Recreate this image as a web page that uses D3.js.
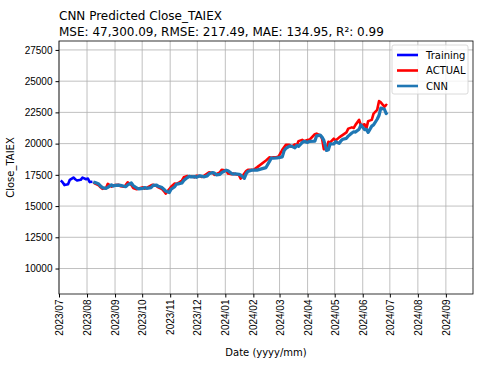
<!DOCTYPE html>
<html>
<head>
<meta charset="utf-8">
<script src="https://cdn.jsdelivr.net/npm/d3@7"></script>
<style>
    body { margin: 0; background: #fff; }
    svg { font-family: "DejaVu Sans", sans-serif; }
    .grid line { stroke: #b0b0b0; stroke-width: 0.8; }
</style>
</head>
<body>
<svg width="483" height="372"></svg>
<script>
var trainDates = ["2023-07-03", "2023-07-05", "2023-07-07", "2023-07-11", "2023-07-13", "2023-07-17",
    "2023-07-19", "2023-07-21", "2023-07-25", "2023-07-27", "2023-07-31", "2023-08-02", "2023-08-04",
    "2023-08-07"];
var trainValues = [17050, 16900, 16680, 16750, 17100, 17280, 17150, 17050, 17100, 17280, 17150, 17200,
    16920, 16950];

var testDates = ["2023-08-08", "2023-08-10", "2023-08-14", "2023-08-16", "2023-08-18", "2023-08-22", "2023-08-24", "2023-08-28",
    "2023-08-30", "2023-09-01", "2023-09-05", "2023-09-07", "2023-09-11", "2023-09-13", "2023-09-15",
    "2023-09-19", "2023-09-21", "2023-09-25", "2023-09-27", "2023-10-02", "2023-10-04", "2023-10-06",
    "2023-10-11", "2023-10-13", "2023-10-17", "2023-10-19", "2023-10-23", "2023-10-25", "2023-10-27",
    "2023-10-31", "2023-11-02", "2023-11-06", "2023-11-08", "2023-11-10", "2023-11-14", "2023-11-16",
    "2023-11-20", "2023-11-22", "2023-11-24", "2023-11-28", "2023-11-30", "2023-12-04", "2023-12-06",
    "2023-12-08", "2023-12-12", "2023-12-14", "2023-12-18", "2023-12-20", "2023-12-22", "2023-12-26",
    "2023-12-28", "2024-01-02", "2024-01-04", "2024-01-08", "2024-01-10", "2024-01-12", "2024-01-16",
    "2024-01-18", "2024-01-22", "2024-01-24", "2024-01-26", "2024-01-30", "2024-02-01", "2024-02-05",
    "2024-02-15", "2024-02-19", "2024-02-21", "2024-02-23", "2024-02-27", "2024-02-29", "2024-03-04",
    "2024-03-06", "2024-03-08", "2024-03-12", "2024-03-14", "2024-03-18", "2024-03-20", "2024-03-22",
    "2024-03-26", "2024-03-28", "2024-04-01", "2024-04-03", "2024-04-09", "2024-04-11", "2024-04-15",
    "2024-04-17", "2024-04-19", "2024-04-22", "2024-04-24", "2024-04-26", "2024-04-30", "2024-05-02",
    "2024-05-06", "2024-05-08", "2024-05-10", "2024-05-14", "2024-05-16", "2024-05-20", "2024-05-22",
    "2024-05-24", "2024-05-28", "2024-05-30", "2024-06-03", "2024-06-05", "2024-06-07", "2024-06-11",
    "2024-06-13", "2024-06-17", "2024-06-19", "2024-06-21", "2024-06-25", "2024-06-27", "2024-06-28"];
var actualValues = [16900, 16800, 16650, 16500, 16380, 16450, 16780, 16560, 16650, 16680, 16700, 16580, 16550, 16700,
    16900, 16700, 16450, 16350, 16400, 16500, 16400, 16450, 16660, 16710, 16600, 16500, 16350, 16200,
    16000, 16350, 16550, 16800, 16780, 16850, 17050, 17300, 17400, 17350, 17380, 17300, 17430, 17400,
    17330, 17400, 17600, 17700, 17650, 17500, 17550, 17700, 17900, 17850, 17600, 17550, 17600, 17550,
    17500, 17200, 17600, 17800, 17900, 17900, 17890, 18100, 18650, 18900, 18870, 18900, 18920, 18970,
    19500, 19700, 19900, 19900, 19750, 19950, 19850, 20200, 20300, 20200, 20300, 20300, 20750, 20800,
    20650, 20400, 19550, 19600, 20150, 20100, 20400, 20250, 20500, 20600, 20700, 20900, 21200, 21300,
    21250, 21500, 21900, 21450, 21550, 21200, 21800, 21900, 22400, 22700, 23400, 23300, 22950, 23100, 23050];
var cnnValues = [16920, 16880, 16760, 16600, 16480, 16420, 16500, 16700, 16600, 16650, 16680, 16660, 16580, 16560,
    16700, 16850, 16650, 16450, 16380, 16420, 16480, 16420, 16480, 16650, 16680, 16580, 16480, 16350,
    16200, 16080, 16350, 16550, 16760, 16780, 16850, 17050, 17280, 17380, 17340, 17360, 17300, 17420,
    17390, 17340, 17420, 17580, 17680, 17640, 17500, 17540, 17680, 17870, 17830, 17600, 17550, 17590,
    17540, 17480, 17220, 17580, 17770, 17870, 17880, 17880, 18080, 18600, 18850, 18830, 18860, 18880,
    18940, 19420, 19620, 19800, 19800, 19660, 19850, 19780, 20080, 20180, 20100, 20180, 20200, 20620,
    20680, 20520, 20260, 19450, 19500, 19980, 19970, 20150, 20020, 20230, 20350, 20420, 20600, 20850,
    20950, 20920, 21150, 21500, 21120, 21150, 20900, 21400, 21500, 21950, 22250, 22850, 22750, 22400, 22500];

var yTicks = [10000, 12500, 15000, 17500, 20000, 22500, 25000, 27500];

var parse = d3.timeParse("%Y-%m-%d");
var svg = d3.select("svg"),
    margin = { top: 41, right: 10, bottom: 78, left: 59 },
    width = +svg.attr("width") - margin.left - margin.right,
    height = +svg.attr("height") - margin.top - margin.bottom;

var x = d3.scaleTime()
    .domain([parse("2023-07-01"), parse("2024-10-01")])
    .range([0, width]);
var y = d3.scaleLinear().domain([7960, 28215]).range([height, 0]);

var g = svg.append("g")
    .attr("transform", "translate(" + margin.left + "," + margin.top + ")");

var monthTicks = d3.timeMonth.range(parse("2023-07-01"), parse("2024-09-02"));

// grid
g.append("g").attr("class", "grid")
    .selectAll("line").data(monthTicks).enter().append("line")
    .attr("x1", function (d) { return x(d); }).attr("x2", function (d) { return x(d); })
    .attr("y1", 0).attr("y2", height);
g.append("g").attr("class", "grid")
    .selectAll("line").data(yTicks).enter().append("line")
    .attr("x1", 0).attr("x2", width)
    .attr("y1", function (d) { return y(d); }).attr("y2", function (d) { return y(d); });

var line = d3.line()
    .x(function (d) { return x(d[0]); })
    .y(function (d) { return y(d[1]); });

var train = trainDates.map(function (d, i) { return [parse(d), trainValues[i]]; });
var actual = testDates.map(function (d, i) { return [parse(d), actualValues[i]]; });
var cnn = testDates.map(function (d, i) { return [parse(d), cnnValues[i]]; });

g.append("path").datum(train).attr("d", line)
    .attr("fill", "none").attr("stroke", "#0000ff").attr("stroke-width", 2.6)
    .attr("stroke-linejoin", "round");
g.append("path").datum(actual).attr("d", line)
    .attr("fill", "none").attr("stroke", "#ff0000").attr("stroke-width", 2.6)
    .attr("stroke-linejoin", "round");
g.append("path").datum(cnn).attr("d", line)
    .attr("fill", "none").attr("stroke", "#1f77b4").attr("stroke-width", 3.2)
    .attr("stroke-linejoin", "round");

// axes
var xAxis = g.append("g")
    .attr("transform", "translate(0," + height + ")")
    .call(d3.axisBottom(x).tickValues(monthTicks).tickFormat(d3.timeFormat("%Y/%m"))
        .tickSizeOuter(0).tickSize(3.5));
xAxis.selectAll("text")
    .attr("transform", "rotate(-90)")
    .attr("text-anchor", "end")
    .attr("x", -5.5).attr("y", 0).attr("dy", "0.35em")
    .style("font-size", "10px").attr("fill", "#000");

var yAxis = g.append("g")
    .call(d3.axisLeft(y).tickValues(yTicks).tickSizeOuter(0).tickSize(3.5).tickFormat(d3.format("d")));
yAxis.selectAll("text").style("font-size", "10px").attr("fill", "#000");

g.selectAll(".domain").remove();
g.append("rect").attr("width", width).attr("height", height)
    .attr("fill", "none").attr("stroke", "#000").attr("stroke-width", 0.8);

// labels
svg.append("text").attr("x", 59).attr("y", 20)
    .style("font-size", "12px").text("CNN Predicted Close_TAIEX");
svg.append("text").attr("x", 59).attr("y", 36)
    .style("font-size", "12px").text("MSE: 47,300.09, RMSE: 217.49, MAE: 134.95, R²: 0.99");
svg.append("text")
    .attr("transform", "translate(14," + (margin.top + height / 2) + ") rotate(-90)")
    .attr("text-anchor", "middle").style("font-size", "10px").text("Close_TAIEX");
svg.append("text").attr("x", margin.left + width / 2).attr("y", 356)
    .attr("text-anchor", "middle").style("font-size", "10px").text("Date (yyyy/mm)");

// legend
var legendItems = [["Training", "#0000ff"], ["ACTUAL", "#ff0000"], ["CNN", "#1f77b4"]];
var lg = svg.append("g").attr("transform", "translate(392,45)");
lg.append("rect").attr("width", 76).attr("height", 49).attr("rx", 2)
    .attr("fill", "#fff").attr("fill-opacity", 0.8).attr("stroke", "#d0d0d0").attr("stroke-width", 0.8);
legendItems.forEach(function (item, i) {
    lg.append("line").attr("x1", 5).attr("x2", 26)
        .attr("y1", 10 + i * 15.5).attr("y2", 10 + i * 15.5)
        .attr("stroke", item[1]).attr("stroke-width", 2.6);
    lg.append("text").attr("x", 34).attr("y", 10 + i * 15.5).attr("dy", "0.35em")
        .style("font-size", "10px").text(item[0]);
});
</script>
</body>
</html>
